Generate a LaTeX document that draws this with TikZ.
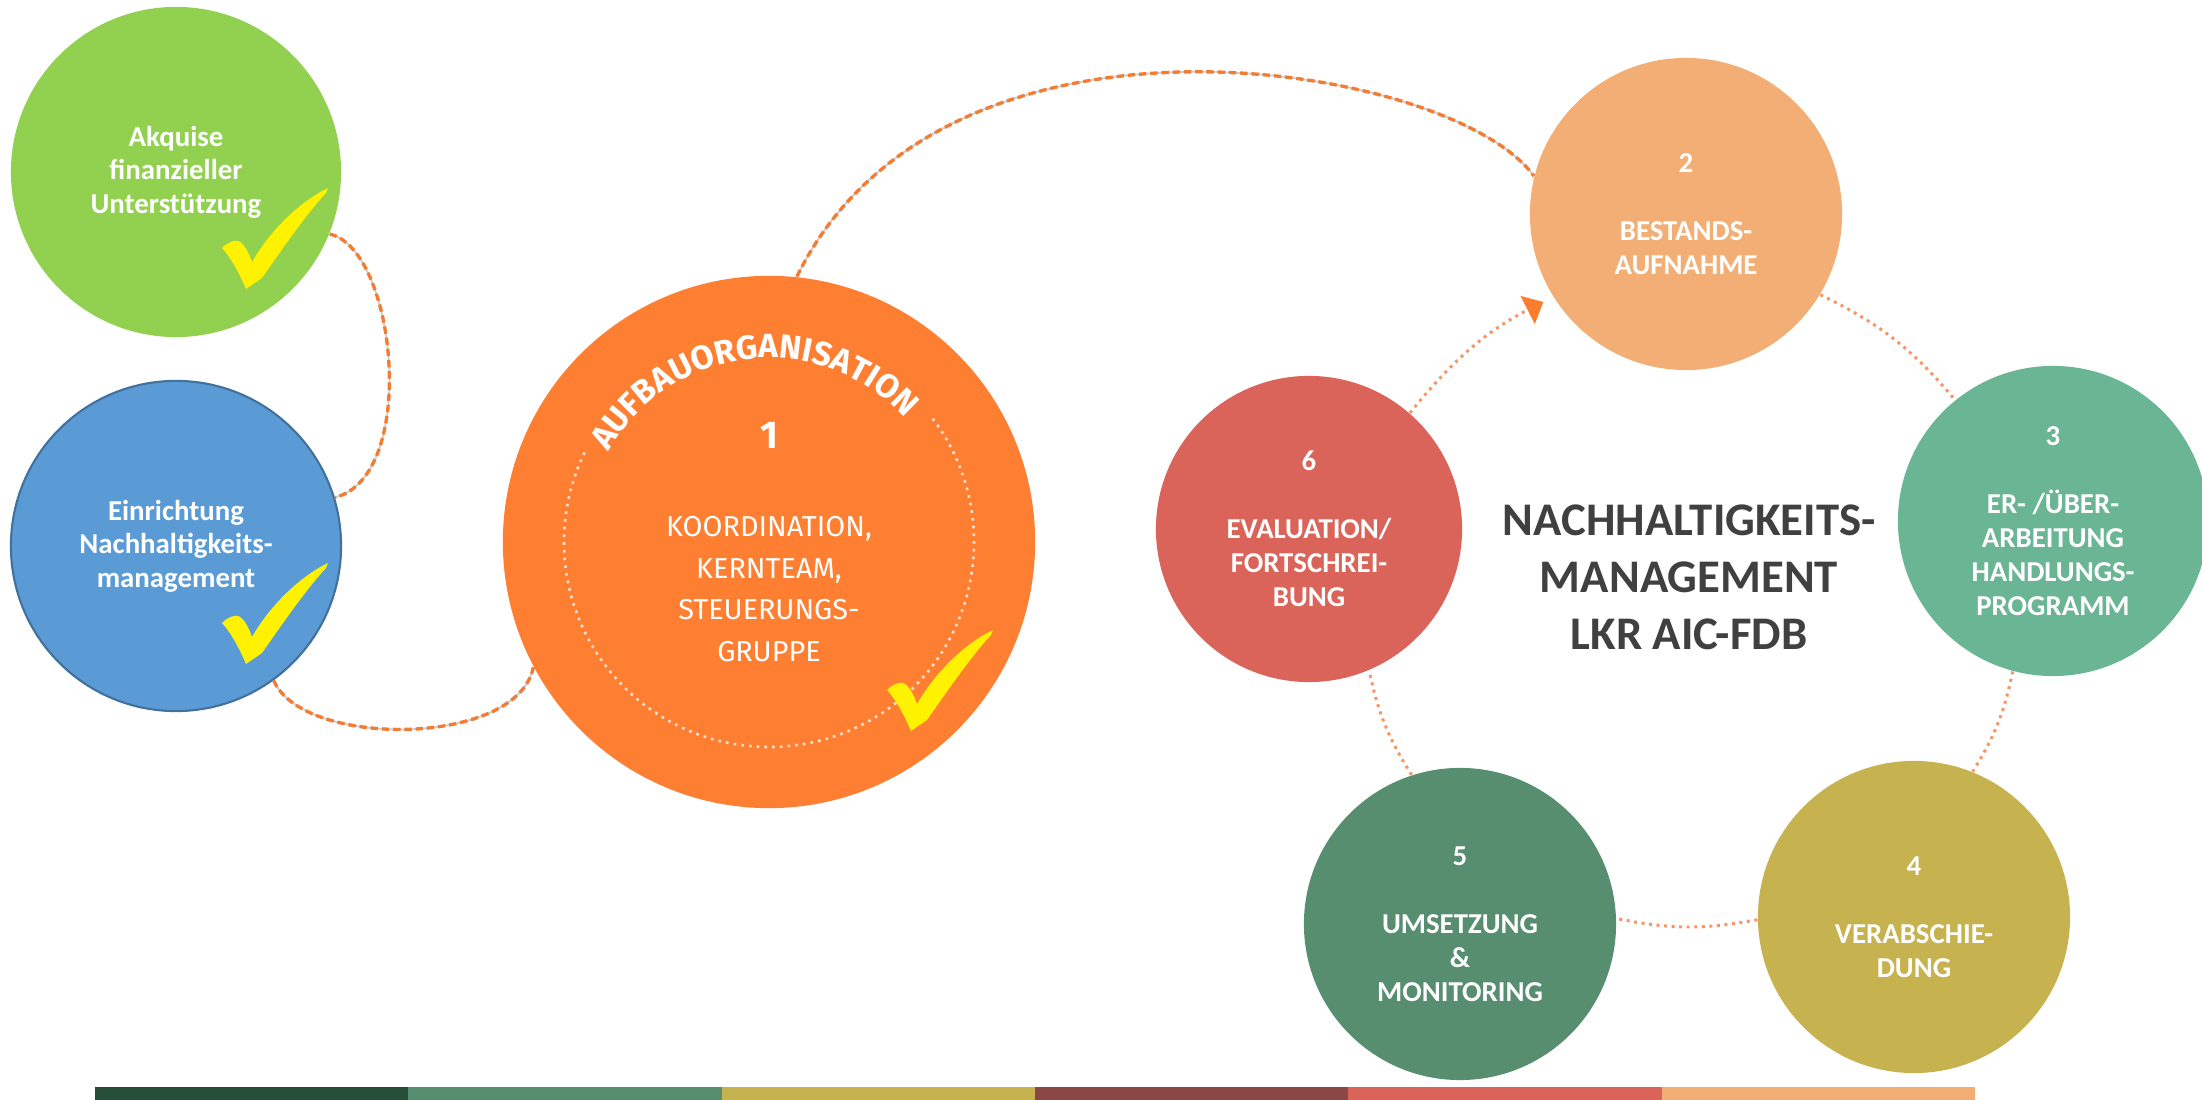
\documentclass[tikz,border=0pt]{standalone}
\usepackage{fontspec}
\setmainfont{Carlito}
\newfontfamily\fira{Fira Sans}
\usetikzlibrary{positioning,calc,arrows.meta,decorations.text}

\definecolor{gruen}{HTML}{92D050}
\definecolor{blau}{HTML}{5B9BD5}
\definecolor{blaurand}{HTML}{41719C}
\definecolor{orangekreis}{HTML}{FE7F31}
\definecolor{kreiszwei}{HTML}{F2AE74}
\definecolor{kreisdrei}{HTML}{6AB594}
\definecolor{kreisvier}{HTML}{C7B250}
\definecolor{kreisfuenf}{HTML}{588E70}
\definecolor{kreissechs}{HTML}{DA645A}
\definecolor{balkeneins}{HTML}{264D37}
\definecolor{balkenvier}{HTML}{8B4646}
\definecolor{strichc}{HTML}{F47B2F}
\definecolor{punktc}{HTML}{F79565}
\definecolor{pfeilc}{HTML}{FC7D2E}
\definecolor{titelc}{HTML}{404040}

\tikzset{
  stufe/.style={circle, inner sep=0pt, text=white, align=center,
    font=\bfseries\fontsize{8.2}{9.7}\selectfont},
  vorstufe/.style={stufe, minimum size=3.3cm, font=\bfseries\fontsize{8.2}{9.5}\selectfont},
  titel/.style={text=titelc, align=center, font=\bfseries\fontsize{13.3}{16.2}\selectfont},
  orgtext/.style={text=white, align=center, font=\fira\fontsize{8.2}{11.9}\selectfont},
  strich/.style={draw=strichc, line width=0.95pt, dash pattern=on 2.1pt off 1.1pt,
    preaction={draw=black!20, line width=0.5pt}},
  punkte/.style={draw=punktc, line width=0.85pt, dash pattern=on 0.85pt off 1.3pt},
  weisspunkte/.style={draw=white, draw opacity=0.75, line width=0.75pt, dash pattern=on 0.75pt off 1.45pt},
  haken/.pic={
    \fill[yellow] (0,0) .. controls (-6,14) and (-14,30) .. (-24,41)
      .. controls (-18,47) and (-12,49) .. (-8,48)
      .. controls (-2,46) and (3,36) .. (6,27)
      .. controls (25,60) and (55,88) .. (82,101) -- (80,96)
      .. controls (58,72) and (35,38) .. (16,11) -- cycle;
  }
}

\begin{document}
\begin{tikzpicture}[x=0.01cm, y=0.01cm]

  \fill[white] (0,0) rectangle (2202,1100);
  \useasboundingbox (0,0) rectangle (2202,1100);

  %left circles
  \node[vorstufe, fill=gruen] (akquise) at (176,928) {Akquise\\finanzieller\\Unterstützung};
  \node[vorstufe, fill=blau, draw=blaurand, line width=0.6pt] (einrichtung) at (176,554)
       {Einrichtung\\Nachhaltigkeits-\\management};

  %big circle
  \node[circle, fill=orangekreis, minimum size=5.32cm, inner sep=0pt] (aufbau) at (769,558) {};
  \draw[weisspunkte] (aufbau.center) ++(37:205) arc[start angle=37, end angle=-206, radius=205];
  \path[decorate, decoration={text along path, text align=center, text color=white,
        text={|\fira\bfseries\fontsize{9.5}{11}\selectfont|AUFBAUORGANISATION}}]
        (aufbau.center) ++(161:184) arc[start angle=161, end angle=32, radius=184];
  \node[text=white, font=\fira\bfseries\fontsize{11}{13}\selectfont] (eins) at ($(aufbau)+(0,107)$) {1};
  \node[orgtext] (koord) at ($(aufbau)+(0,-47)$) {KOORDINATION,\\KERNTEAM,\\STEUERUNGS-\\GRUPPE};

  %cycle
  \foreach \x/\y/\d/\farbe/\name/\txt in {
      1686/886/3.12/kreiszwei/bestand/{2\\[9.7pt]BESTANDS-\\AUFNAHME},
      2053/579/3.10/kreisdrei/handlung/{3\\[9.7pt]ER- /ÜBER-\\ARBEITUNG\\HANDLUNGS-\\PROGRAMM},
      1914/183/3.12/kreisvier/verabsch/{4\\[9.7pt]VERABSCHIE-\\DUNG},
      1460/176/3.12/kreisfuenf/umsetz/{5\\[9.7pt]UMSETZUNG\\\&\\MONITORING},
      1309/571/3.06/kreissechs/evaluat/{6\\[9.7pt]EVALUATION/\\FORTSCHREI-\\BUNG}}{
    \node[stufe, fill=\farbe, minimum size=\d cm] (\name) at (\x,\y) {\txt};
  }

  \node[titel] (titel) at (1689,523) {NACHHALTIGKEITS-\\MANAGEMENT\\LKR AIC-FDB};

  %checks
  \pic at ($(akquise)+(70,-117)$) {haken};
  \pic at ($(einrichtung)+(70,-118)$) {haken};
  \pic at ($(aufbau)+(142,-189)$) {haken};

  %connectors
  \draw[strich] (akquise.-22) .. controls +(67,-15) and +(84,21) .. (einrichtung.17);
  \draw[strich] (einrichtung.-54) .. controls +(29,-68) and +(-16,-80) .. (aufbau.208);
  \draw[strich] (aufbau.84) .. controls +(147,300) and +(-80,112) .. (bestand.166);

  \draw[punkte] (bestand.-31) to[bend left=12] (handlung.129);
  \draw[punkte] (handlung.-105) to[bend left=10] (verabsch.68);
  \draw[punkte] (verabsch.181) to[bend left=11] (umsetz.2);
  \draw[punkte] (umsetz.108) to[bend left=10] (evaluat.-67);
  \draw[punkte, -{Triangle[length=5pt, width=8.8pt, color=pfeilc]}, shorten >=3.1pt]
       (evaluat.49) to[bend left=12] (bestand.212);

  %bar
  \foreach \i/\farbe in {0/balkeneins,1/kreisfuenf,2/kreisvier,3/balkenvier,4/kreissechs,5/kreiszwei}{
    \fill[\farbe] (95+\i*313.3,0) rectangle ++(313.3,13);
  }

\end{tikzpicture}
\end{document}
